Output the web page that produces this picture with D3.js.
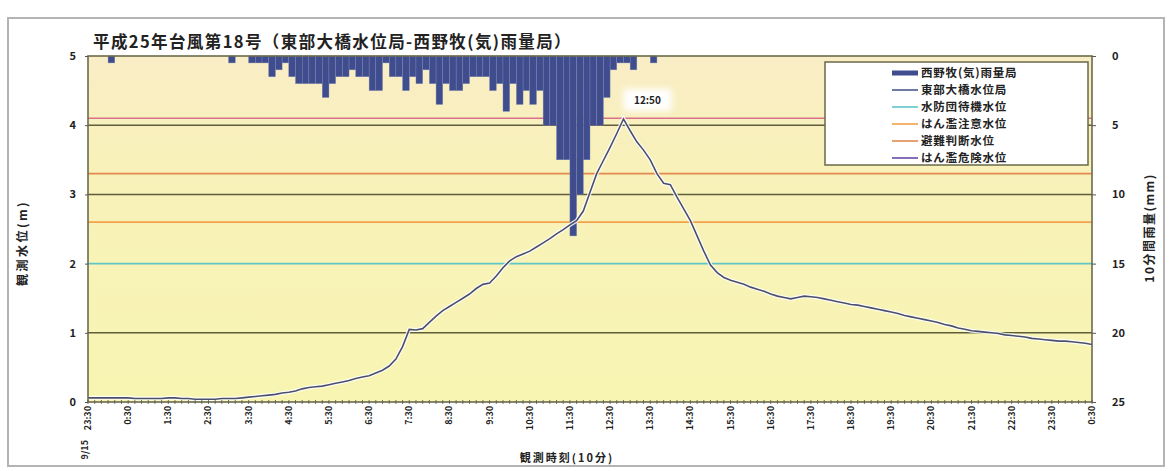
<!DOCTYPE html>
<html><head><meta charset="utf-8">
<script src="https://cdn.jsdelivr.net/npm/d3@7"></script>
<style>
body{margin:0;background:#fff}
svg{display:block}
text{font-family:"Noto Sans CJK JP","Noto Sans",sans-serif;fill:#222}
</style>
</head><body>
<svg id="c" width="1172" height="471"></svg>
<script>
const titleText = "平成25年台風第18号（東部大橋水位局-西野牧(気)雨量局）";
const dateLabel = "9/15";
const timeLabels = ["23:30","0:30","1:30","2:30","3:30","4:30","5:30","6:30","7:30","8:30","9:30","10:30","11:30","12:30","13:30","14:30","15:30","16:30","17:30","18:30","19:30","20:30","21:30","22:30","23:30","0:30"];
// water level (m), every 10 minutes, 151 points
const levels = [0.06,0.06,0.06,0.06,0.06,0.06,0.06,0.05,0.05,0.05,0.05,0.05,0.06,0.06,0.05,0.05,0.04,0.04,0.04,0.04,0.05,0.05,0.05,0.06,
0.07,0.08,0.09,0.10,0.11,0.13,0.14,0.16,0.19,0.21,0.22,0.23,0.25,0.27,0.29,0.31,0.34,0.36,0.38,0.42,0.46,0.52,0.62,0.80,
1.05,1.04,1.06,1.15,1.24,1.32,1.38,1.44,1.50,1.56,1.64,1.70,1.72,1.82,1.94,2.04,2.10,2.14,2.18,2.24,2.30,2.36,
2.43,2.49,2.56,2.62,2.76,3.03,3.30,3.49,3.68,3.88,4.09,3.92,3.76,3.64,3.50,3.30,3.16,3.14,2.96,2.79,2.62,2.40,2.18,1.98,
1.87,1.80,1.76,1.73,1.70,1.66,1.63,1.60,1.56,1.53,1.51,1.49,1.51,1.53,1.52,1.51,1.49,1.47,1.45,1.43,1.41,1.40,1.38,1.36,1.34,1.32,1.30,1.28,1.25,1.23,1.21,1.19,1.17,1.15,1.12,1.10,1.07,1.05,1.03,1.02,1.01,1.00,0.99,0.97,0.96,0.95,0.94,0.92,0.91,0.90,0.89,0.88,0.88,0.87,0.86,0.85,0.83];
// 10-minute rainfall (mm), 150 intervals
const rain = [0,0,0,0.5,0,0,0,0,0,0,0,0,0,0,0,0,0,0,0,0,0,0.5,0,0,
0.5,0.5,0.5,1.5,1.0,0.5,1.5,2.0,2.0,2.0,2.0,3.0,2.0,1.5,1.5,1.0,1.5,1.5,2.5,2.5,0.5,1.5,1.5,2.5,1.5,2.0,
1.0,2.0,3.5,2.0,2.5,2.5,2.0,1.5,1.5,1.5,2.5,2.0,4.0,2.0,3.5,2.5,3.5,2.5,5.0,5.0,7.5,7.5,13.0,10.0,7.5,5.0,5.0,3.0,1.0,0.5,
0.5,1.0,0,0,0.5,0,0,0,0,0,0,0,0,0,0,0,0,0,0,0,0,0,0,0,0,0,0,0,0,0,0,0,0,0,0,0,0,0,0,0,
0,0,0,0,0,0,0,0,0,0,0,0,0,0,0,0,0,0,0,0,0,0,0,0,0,0,0,0,0,0];
const thresholdNames = ["水防団待機水位","はん濫注意水位","避難判断水位","はん濫危険水位"];
const thresholdValues = [2.0, 2.6, 3.3, 4.1];
const thresholdColors = ["#5fc6c8","#f2a24a","#e2894e","#d9708c"];
const gridValues = [1,3,4];
const leftTicks = [0,1,2,3,4,5];
const rightTicks = [0,5,10,15,20,25];
const peakLabel = "12:50";
const seriesNames = ["西野牧(気)雨量局","東部大橋水位局"];

const svg = d3.select("#c");
const L=88, R=1092, T=56, B=402;
const x = d3.scaleLinear().domain([0,150]).range([L,R]);
const yL = d3.scaleLinear().domain([0,5]).range([B,T]);
const yR = d3.scaleLinear().domain([0,25]).range([T,B]);

const defs = svg.append("defs");
const g = defs.append("linearGradient").attr("id","bg").attr("x1",0).attr("x2",0).attr("y1",0).attr("y2",1);
g.append("stop").attr("offset","0%").attr("stop-color","#f9edc6");
g.append("stop").attr("offset","30%").attr("stop-color","#f8f1ba");
g.append("stop").attr("offset","100%").attr("stop-color","#f8f5b2");
defs.append("filter").attr("id","blur").attr("x","-50%").attr("y","-50%").attr("width","200%").attr("height","200%")
  .append("feGaussianBlur").attr("stdDeviation",3);

// outer frame
svg.append("rect").attr("x",8).attr("y",18).attr("width",1156).attr("height",448)
  .attr("fill","none").attr("stroke","#b4b4b4").attr("stroke-width",2);

// plot background
svg.append("rect").attr("x",L).attr("y",T).attr("width",R-L).attr("height",B-T).attr("fill","url(#bg)");

// gridlines
svg.selectAll(".grid").data(gridValues).enter().append("line")
  .attr("x1",L).attr("x2",R).attr("y1",d=>yL(d)).attr("y2",d=>yL(d))
  .attr("stroke","#5e5d3c").attr("stroke-width",1.5);
// thresholds
svg.selectAll(".thr").data(thresholdValues).enter().append("line")
  .attr("x1",L).attr("x2",R).attr("y1",d=>yL(d)).attr("y2",d=>yL(d))
  .attr("stroke",(d,i)=>thresholdColors[i]).attr("stroke-width",1.6);

// rain bars
const bw = x(1)-x(0);
const barData = rain.map((v,k)=>({k,v})).filter(d=>d.v>0);
svg.selectAll(".rb").data(barData).enter().append("rect").attr("class","rb")
  .attr("x",d=>x(d.k)).attr("y",yR(0)).attr("width",bw).attr("height",d=>yR(d.v)-yR(0))
  .attr("fill","#3f4d8e").attr("stroke","#7d86b4").attr("stroke-width",0.4);

// water level line
const line = d3.line().x((d,i)=>x(i)).y(d=>yL(d));
svg.append("path").datum(levels).attr("d",line).attr("fill","none")
  .attr("stroke","#ffffff").attr("stroke-opacity",0.85).attr("stroke-width",4);
svg.append("path").datum(levels).attr("d",line).attr("fill","none")
  .attr("stroke","#4b4f6e").attr("stroke-width",1.6);

// plot border
svg.append("rect").attr("x",L).attr("y",T).attr("width",R-L).attr("height",B-T)
  .attr("fill","none").attr("stroke","#6c6b4c").attr("stroke-width",1.6);

// left axis
const ax = svg.append("g").attr("transform",`translate(${L},0)`)
  .call(d3.axisLeft(yL).tickValues(leftTicks).tickSize(3).tickPadding(9).tickFormat(d3.format("d")));
ax.select(".domain").remove();
ax.selectAll("line").attr("stroke","#555");
ax.selectAll("text").attr("font-size",11).attr("font-weight","bold").attr("font-family","Liberation Sans, Arial, sans-serif");

// right axis
const ar = svg.append("g").attr("transform",`translate(${R},0)`)
  .call(d3.axisRight(yR).tickValues(rightTicks).tickSize(4).tickPadding(16).tickFormat(d3.format("d")));
ar.select(".domain").remove();
ar.selectAll("line").attr("stroke","#555");
ar.selectAll("text").attr("font-size",11).attr("font-weight","bold").attr("font-family","Liberation Sans, Arial, sans-serif");

// bottom minor ticks
svg.selectAll(".mt").data(d3.range(0,151)).enter().append("line")
  .attr("x1",d=>x(d)).attr("x2",d=>x(d)).attr("y1",B-2).attr("y2",B+2)
  .attr("stroke","#555").attr("stroke-width",0.8);

// x labels
svg.selectAll(".xl").data(timeLabels).enter().append("text")
  .attr("transform",(t,j)=>`translate(${x(j*6)+3},406) rotate(-90)`)
  .attr("text-anchor","end").attr("font-size",9).attr("font-weight","bold")
  .attr("font-family","Liberation Sans, Arial, sans-serif").text(t=>t);
svg.append("text").attr("transform",`translate(88,440) rotate(-90)`)
  .attr("text-anchor","end").attr("font-size",9).attr("font-weight","bold")
  .attr("font-family","Liberation Sans, Arial, sans-serif").text(dateLabel);

// title
svg.append("text").attr("x",93).attr("y",48).attr("font-size",16.5).attr("letter-spacing",1.4)
  .attr("font-weight","bold").text(titleText);
// axis titles
svg.append("text").attr("transform","translate(27,243) rotate(-90)").attr("text-anchor","middle")
  .attr("font-size",12).attr("letter-spacing",2.5).attr("font-weight","bold").text("観測水位(m)");
svg.append("text").attr("transform","translate(1154,228) rotate(-90)").attr("text-anchor","middle")
  .attr("font-size",12).attr("letter-spacing",1.5).attr("font-weight","bold").text("10分間雨量(mm)");
svg.append("text").attr("x",567).attr("y",462).attr("text-anchor","middle")
  .attr("font-size",11).attr("letter-spacing",2).attr("font-weight","bold").text("観測時刻(10分)");

// peak annotation
const pi = levels.indexOf(d3.max(levels));
const px = x(pi)+24, py = yL(levels[pi]) - 18;
svg.append("rect").attr("x",px-24).attr("y",py-12).attr("width",48).attr("height",22)
  .attr("fill","#fff").attr("filter","url(#blur)");
svg.append("text").attr("x",px).attr("y",py+3).attr("text-anchor","middle")
  .attr("font-size",10).attr("font-weight","bold").attr("font-family","Liberation Sans, Arial, sans-serif").text(peakLabel);

// legend
const lg = svg.append("g");
lg.append("rect").attr("x",825).attr("y",62).attr("width",263).attr("height",103)
  .attr("fill","#fff").attr("stroke","#6a6948").attr("stroke-width",1.5);
const legendItems = [
  {name:seriesNames[0], type:"bar", color:"#3f4d8e"},
  {name:seriesNames[1], type:"line", color:"#4a5a8c"},
  ...thresholdNames.map((n,i)=>({name:n,type:"line",color:i===3?"#6a4aa8":thresholdColors[i]}))
];
legendItems.forEach((it,r)=>{
  const yy = 73 + r*17;
  if(it.type==="bar"){
    lg.append("rect").attr("x",892).attr("y",yy-2.5).attr("width",26).attr("height",5).attr("fill",it.color);
  } else {
    lg.append("line").attr("x1",892).attr("x2",918).attr("y1",yy).attr("y2",yy)
      .attr("stroke",it.color).attr("stroke-width",1.6);
  }
  lg.append("text").attr("x",921).attr("y",yy+4).attr("font-size",11.5).attr("letter-spacing",0.8)
    .attr("font-weight","bold").text(it.name);
});
</script>
</body></html>
